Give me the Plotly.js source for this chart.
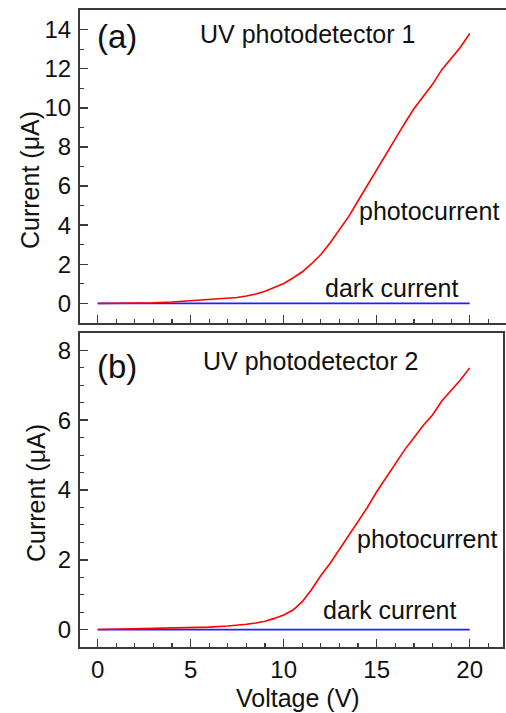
<!DOCTYPE html>
<html>
<head>
<meta charset="utf-8">
<script src="https://cdn.plot.ly/plotly-3.0.1.min.js"></script>
<style>html,body{margin:0;padding:0;background:#fff;}#chart{width:506px;height:713px;}</style>
</head>
<body>
<div id="chart"></div>
<script>
// ---- data ----
const voltage = [0,1,2,3,4,5,6,7,7.5,8,8.5,9,9.5,10,10.5,11,11.5,12,12.5,13,13.5,14,14.5,15,15.5,16,16.5,17,17.5,18,18.5,19,19.5,20];
const photoA = [0,0.0,0.01,0.03,0.07,0.13,0.18,0.25,0.3,0.38,0.48,0.62,0.8,1.02,1.3,1.62,2.03,2.5,3.1,3.75,4.45,5.25,6.05,6.85,7.65,8.4,9.2,9.95,10.6,11.2,11.95,12.5,13.1,13.8];
const photoB = [0,0.01,0.02,0.03,0.04,0.05,0.07,0.1,0.12,0.15,0.19,0.24,0.32,0.42,0.56,0.8,1.15,1.55,1.9,2.3,2.7,3.1,3.5,3.95,4.35,4.75,5.15,5.5,5.85,6.15,6.55,6.85,7.15,7.5];
const darkV = [0,20];
const darkA = [0,0];
const darkB = [0,0];
const xTicks = [0,5,10,15,20];
const yTicksA = [0,2,4,6,8,10,12,14];
const yTicksB = [0,2,4,6,8];
const labelA = "(a)", titleA = "UV photodetector 1";
const labelB = "(b)", titleB = "UV photodetector 2";
const photoLabel = "photocurrent", darkLabel = "dark current";
const yTitle = "Current (\u03bcA)", xTitle = "Voltage (V)";

const W = 506, H = 713;
const px = v => v / W, py = v => 1 - v / H;
const FONT = "Liberation Sans, Arial, sans-serif";
const AX = "#3a3a3a";
const TXT = 25;

const traces = [
  {x: darkV, y: darkA, xaxis: 'x', yaxis: 'y', mode: 'lines', line: {color: '#2020ff', width: 1.8}},
  {x: voltage, y: photoA, xaxis: 'x', yaxis: 'y', mode: 'lines', line: {color: '#ff0000', width: 1.6}},
  {x: darkV, y: darkB, xaxis: 'x2', yaxis: 'y2', mode: 'lines', line: {color: '#2020ff', width: 1.8}},
  {x: voltage, y: photoB, xaxis: 'x2', yaxis: 'y2', mode: 'lines', line: {color: '#ff0000', width: 1.6}}
];

const baseAxis = {
  showgrid: false, zeroline: false, showline: true, linecolor: AX, linewidth: 2,
  ticks: 'inside', ticklen: 8, tickwidth: 1.5, tickcolor: AX,
  tickfont: {family: FONT, size: 24, color: '#111'}
};

const ann = (text, x, y, size, extra) => Object.assign({
  text: text, x: px(x), y: py(y), xref: 'paper', yref: 'paper',
  xanchor: 'left', yanchor: 'middle', showarrow: false,
  font: {family: FONT, size: size, color: '#111'}
}, extra || {});

const layout = {
  width: W, height: H,
  margin: {l: 0, r: 0, t: 0, b: 0},
  paper_bgcolor: '#fff', plot_bgcolor: '#fff',
  showlegend: false,
  font: {family: FONT, color: '#111'},
  xaxis: Object.assign({}, baseAxis, {
    domain: [px(80), 1], range: [-0.95, 21.95], anchor: 'y',
    tickvals: xTicks, showticklabels: false, mirror: true,
    minor: {ticks: 'inside', dtick: 1, ticklen: 4, tickwidth: 1.2, tickcolor: AX}
  }),
  yaxis: Object.assign({}, baseAxis, {
    domain: [py(323), py(10)], range: [-1, 15], anchor: 'x',
    tickvals: yTicksA, ticklabelstandoff: 2,
    minor: {ticks: 'inside', dtick: 1, ticklen: 4, tickwidth: 1.2, tickcolor: AX}
  }),
  xaxis2: Object.assign({}, baseAxis, {
    domain: [px(80), px(503)], range: [-0.95, 21.79], anchor: 'y2',
    tickvals: xTicks, mirror: true,
    minor: {ticks: 'inside', dtick: 1, ticklen: 4, tickwidth: 1.2, tickcolor: AX}
  }),
  yaxis2: Object.assign({}, baseAxis, {
    domain: [py(647), py(333)], range: [-0.5, 8.5], anchor: 'x2',
    tickvals: yTicksB, mirror: true, ticklabelstandoff: 2,
    minor: {ticks: 'inside', dtick: 0.5, ticklen: 4, tickwidth: 1.2, tickcolor: AX}
  }),
  annotations: [
    ann(labelA, 95, 36, 33),
    ann(titleA, 198, 34, TXT),
    ann(photoLabel, 357, 211, TXT),
    ann(darkLabel, 323, 288, TXT),
    ann(labelB, 95, 367, 33),
    ann(titleB, 201, 361, TXT),
    ann(photoLabel, 355, 539, TXT),
    ann(darkLabel, 321, 610, TXT),
    ann(yTitle, 30, 180, TXT, {xanchor: 'center', textangle: -90}),
    ann(yTitle, 36, 493, TXT, {xanchor: 'center', textangle: -90}),
    ann(xTitle, 298, 698, TXT, {xanchor: 'center'})
  ]
};

Plotly.newPlot('chart', traces, layout, {staticPlot: true, displayModeBar: false});
</script>
</body>
</html>
